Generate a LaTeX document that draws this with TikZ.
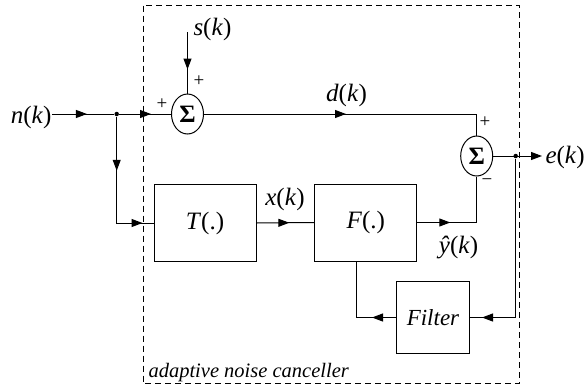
\documentclass[tikz,border=0pt]{standalone}
\usepackage{fontspec}
\setmainfont{Liberation Serif}
\usetikzlibrary{arrows.meta,shapes.geometric,decorations.markings}
\begin{document}
\begin{tikzpicture}[x=1pt,y=-1pt,line width=1pt,
  mytri/.tip={Triangle[length=11pt,width=8pt]},
  marr/.style={postaction={decorate,decoration={markings,mark=at position #1 with {\arrow{mytri}}}}},
  blk/.style={draw, rectangle, inner sep=0pt, font=\fontsize{25}{25}\selectfont},
  sumnode/.style={draw, ellipse, minimum width=32pt, minimum height=40pt, inner sep=0pt, font=\fontsize{25}{25}\selectfont\bfseries},
  lbl/.style={font=\fontsize{25}{25}\selectfont, inner sep=0pt},
  sgn/.style={font=\fontsize{19}{19}\selectfont, inner sep=0pt},
  dot/.style={circle, fill, inner sep=0pt, minimum size=4.5pt}]
\useasboundingbox (0,0) rectangle (586,386);
% frame
\draw[dash pattern=on 6pt off 4pt, line width=0.8pt] (143.3,5.5) rectangle (519.5,383.5);
\node[font=\fontsize{20.5}{20.5}\selectfont\itshape, anchor=base west, inner sep=0pt] (cap) at (148,377) {adaptive noise canceller};
% nodes
\node[lbl, anchor=east] (n) at (52,117.5) {\textit{n}(\textit{k})};
\node[dot] (j1) at (116.7,114) {};
\node[sumnode] (s1) at (187.5,114) {Σ};
\node[lbl, anchor=west] (s) at (193,29) {\textit{s}(\textit{k})};
\coordinate (sin) at (187.5,32);
\node[blk, minimum width=102pt, minimum height=77pt] (T) at (205,223) {\textit{T}(.)};
\node[blk, minimum width=102pt, minimum height=77pt] (F) at (365.8,222.5) {\textit{F}(.)};
\node[blk, minimum width=73pt, minimum height=72pt, font=\fontsize{23}{23}\selectfont] (Fil) at (433,317.5) {\textit{Filter}};
\node[sumnode] (s2) at (476.7,156) {Σ};
\node[dot] (j2) at (515.7,156) {};
\node[lbl, anchor=west] (e) at (545,157.5) {\textit{e}(\textit{k})};
\node[lbl] (d) at (346.5,95) {\textit{d}(\textit{k})};
\node[lbl] (x) at (285,199) {\textit{x}(\textit{k})};
\node[lbl] (yh) at (458.5,247.5) {\textit{ŷ}(\textit{k})};
\node[sgn] (p1) at (199,81) {+};
\node[sgn] (p2) at (162,104) {+};
\node[sgn] (p3) at (485,122) {+};
\node[sgn] (m3) at (487,182) {−};
\coordinate (fb) at (356.7,261);
% connectors
\draw[marr=-27pt] (n.east |- j1) -- (j1);
\draw[marr=-20pt] (j1) -- (s1.west);
\draw[marr=-24pt] (sin) -- (s1.north);
\draw[marr=54pt, marr=-11pt] (j1) |- (T.west);
\draw[marr=-25pt] (T.east) -- (F.west);
\draw[marr=33pt] (F.east) -| (s2.south);
\draw[marr=142pt] (s1.east) -| (s2.north);
\draw[-mytri] (s2.east) -- ([xshift=-3pt]e.west |- s2.east);
\draw[marr=-12pt] (j2) |- (Fil.east);
\draw[marr=24pt] (Fil.west) -| (fb);
\end{tikzpicture}
\end{document}
